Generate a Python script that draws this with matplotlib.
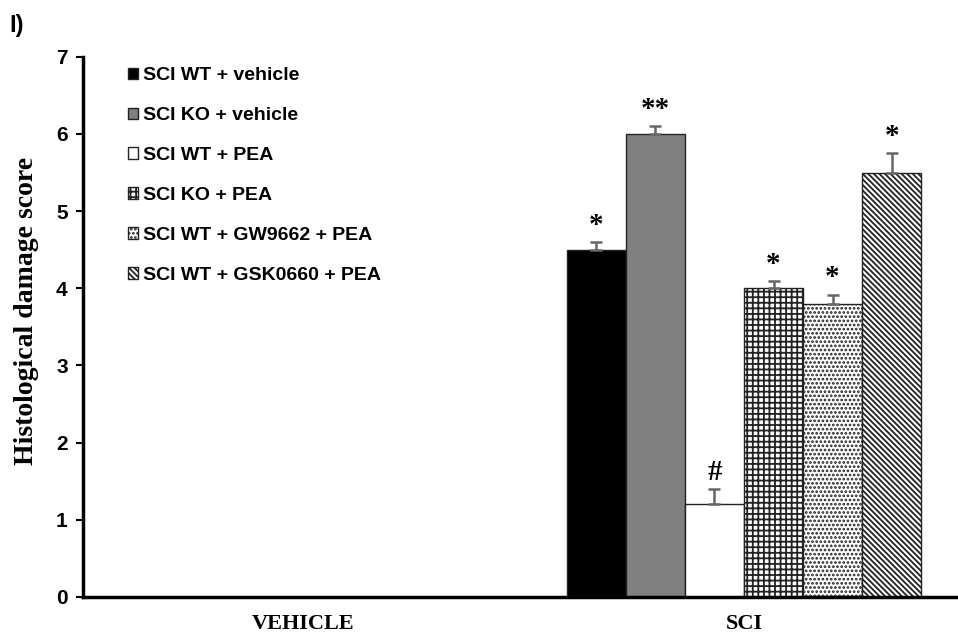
import numpy as np
import matplotlib
matplotlib.use("Agg")
import matplotlib.pyplot as plt

# data
groups = ["VEHICLE", "SCI"]
labels = ["SCI WT + vehicle", "SCI KO + vehicle", "SCI WT + PEA",
          "SCI KO + PEA", "SCI WT + GW9662 + PEA", "SCI WT + GSK0660 + PEA"]
vehicle_vals = [0, 0, 0, 0, 0, 0]
sci_vals = [4.5, 6.0, 1.2, 4.0, 3.8, 5.5]
sci_err = [0.1, 0.1, 0.2, 0.1, 0.12, 0.25]
marks = ["*", "**", "#", "*", "*", "*"]

colors = ["black", "#808080", "white", "white", "white", "white"]
hatches = [None, None, None, "+++", "....", "\\\\\\\\\\\\"]

plt.rcParams["hatch.color"] = "black"
plt.rcParams["hatch.linewidth"] = 1.3

fig = plt.figure(figsize=(9.58, 6.4), dpi=100)
ax = fig.add_axes([0.0866, 0.0672, 0.92, 0.844])

x = np.arange(len(groups))
w = 0.134
for i in range(len(labels)):
    pos = x + (i - 2.5) * w
    vals = [vehicle_vals[i], sci_vals[i]]
    ax.bar(pos, vals, width=w, color=colors[i], edgecolor="#222222",
           linewidth=1.0, hatch=hatches[i], label=labels[i])
    ax.errorbar(pos[1], sci_vals[i], yerr=[[0], [sci_err[i]]], fmt="none",
                ecolor="#666666", elinewidth=1.8, capsize=4, capthick=1.8)
    ax.text(pos[1], sci_vals[i] + sci_err[i] + 0.04, marks[i], ha="center",
            va="bottom", fontsize=21, fontweight="bold",
            family="Liberation Serif")

ax.set_xlim(-0.5, 1.5)
ax.set_ylim(0, 7)
ax.set_yticks(range(8))
ax.set_xticks(x)
ax.set_xticklabels(groups, family="Liberation Serif", fontweight="bold",
                   fontsize=16)
ax.tick_params(axis="x", length=0, pad=12)
ax.tick_params(axis="y", length=5, width=1.5, labelsize=15, pad=6)
for t in ax.get_yticklabels():
    t.set_family("Liberation Sans")
    t.set_fontweight("bold")
ax.spines["top"].set_visible(False)
ax.spines["right"].set_visible(False)
ax.spines["left"].set_linewidth(2.5)
ax.spines["bottom"].set_linewidth(2.5)
ax.set_ylabel("Histological damage score", family="Liberation Serif",
              fontweight="bold", fontsize=20)
ax.yaxis.set_label_coords(-0.05, 0.53)

ax.legend(loc="upper left", bbox_to_anchor=(0.042, 0.995), frameon=False,
          prop={"family": "Liberation Sans", "weight": "bold", "size": 14},
          handlelength=0.55, handleheight=0.55, handletextpad=0.25,
          labelspacing=1.18, borderaxespad=0)

fig.text(0.01, 0.95, "I)", family="Liberation Sans", fontweight="bold",
         fontsize=17)

fig.savefig("out.png", dpi=100)
